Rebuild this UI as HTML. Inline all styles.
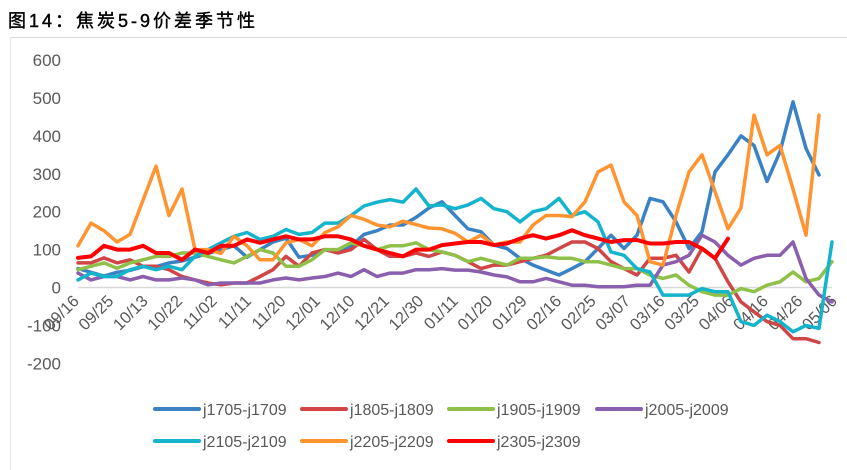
<!DOCTYPE html>
<html><head><meta charset="utf-8"><style>
body{margin:0;background:#fff;}
#wrap{position:relative;width:847px;height:470px;overflow:hidden;background:#fff;font-family:"Liberation Sans","Noto Sans CJK SC",sans-serif;}
</style></head><body>
<div id="wrap">
<svg id="svg" width="847" height="470" xmlns="http://www.w3.org/2000/svg">
<text x="8" y="27" font-size="18" fill="#000" stroke="#000" stroke-width="0.4" letter-spacing="3" font-family="'Liberation Sans','Noto Sans CJK SC',sans-serif">图14：焦炭5-9价差季节性</text>
<line x1="10" y1="37.5" x2="847" y2="37.5" stroke="#d9d9d9" stroke-width="1"/>
<line x1="10.5" y1="37" x2="10.5" y2="470" stroke="#e6e6e6" stroke-width="1"/>
<g id="axes"></g><g id="series"></g><g id="legend"></g>
</svg>
</div>
<script>
const yTicks=[600,500,400,300,200,100,0,-100,-200];
const xLabels=["09/16","09/25","10/13","10/22","11/02","11/11","11/20","12/01","12/10","12/21","12/30","01/11","01/20","01/29","02/16","02/25","03/07","03/16","03/25","04/06","04/16","04/26","05/06"];
const seriesNames=["j1705-j1709","j1805-j1809","j1905-j1909","j2005-j2009","j2105-j2109","j2205-j2209","j2305-j2309"];
const seriesColors=["#3b82c4","#d04545","#8fc04a","#8a5fae","#14b4cc","#ff9430","#ff0000"];
const s1705=[50,40,30,40,45,55,55,65,70,80,90,100,110,80,100,120,130,80,85,100,95,110,140,150,165,165,185,210,226,190,155,147,112,103,77,59,46,33,50,68,103,138,103,138,235,226,173,103,147,305,350,400,375,280,358,490,367,297];
const s1805=[65,65,78,65,73,56,56,47,29,20,12,7,12,12,29,47,82,56,91,100,91,100,127,100,82,82,91,82,94,85,68,50,59,59,68,77,85,103,120,120,103,68,50,33,77,77,85,41,103,77,15,-38,-64,-90,-100,-135,-135,-145];
const s1905=[47,56,65,51,65,73,82,82,91,91,82,73,65,82,100,91,56,56,73,100,100,118,110,100,110,110,118,100,94,85,68,77,68,59,77,77,81,77,77,68,68,59,50,50,33,24,33,6,-11,-20,-20,-3,-11,6,15,41,15,24,68];
const s2005=[38,20,29,29,20,29,20,20,25,20,7,12,12,12,12,20,25,20,25,29,38,29,47,29,38,38,47,47,50,46,46,41,33,28,15,15,24,15,6,6,2,2,2,6,6,59,68,85,138,120,85,59,77,85,85,120,24,-20,-38];
const s2105=[20,38,29,29,47,56,47,56,47,82,100,118,135,145,127,135,153,140,145,170,170,190,215,225,232,225,260,215,218,208,218,235,208,200,173,200,208,235,190,200,173,94,85,50,41,-20,-20,-20,-3,-11,-11,-90,-100,-73,-90,-117,-100,-108,120];
const s2205=[110,170,150,120,140,230,320,190,260,100,100,90,135,110,73,73,118,127,110,145,160,190,180,165,160,175,166,157,155,143,120,138,112,120,120,165,190,190,187,226,305,323,226,190,68,59,190,305,350,253,155,210,455,350,375,260,138,455];
const s2305=[78,82,110,100,100,110,91,91,73,100,91,110,110,127,118,127,135,127,127,135,135,127,110,100,91,82,100,100,112,116,120,120,112,116,129,138,129,138,151,138,129,120,125,125,116,116,120,120,103,77,129];
const allSeries=[s1705,s1805,s1905,s2005,s2105,s2205,s2305];

const NS="http://www.w3.org/2000/svg";
const X0=78,STEP=13,YZ=287.5,PER=0.379;
function xs(i){return X0+STEP*i;}
function ys(v){return YZ-v*PER;}
function mk(tag,attrs,parent){const e=document.createElementNS(NS,tag);for(const k in attrs)e.setAttribute(k,attrs[k]);parent.appendChild(e);return e;}
const axes=document.getElementById('axes');
const zl=mk('line',{x1:X0,x2:832,y1:ys(0),y2:ys(0),stroke:'#d9d9d9','stroke-width':1.5},axes);


yTicks.forEach(t=>{
 const tx=mk('text',{x:61,y:ys(t)+6,'text-anchor':'end','font-size':17,fill:'#595959'},axes);
 tx.textContent=t;
 
 
});
const lStep=(838-80)/(xLabels.length-1);
xLabels.forEach((l,i)=>{
 const x=80+lStep*i,y=302;
 const tx=mk('text',{x:x,y:y,'text-anchor':'end','font-size':16.5,fill:'#595959',transform:`rotate(-45 ${x} ${y})`},axes);
 tx.textContent=l;
 
 
});
const sg=document.getElementById('series');
allSeries.forEach((arr,si)=>{
 const d=arr.map((v,i)=>(i?'L':'M')+xs(i).toFixed(1)+' '+ys(v).toFixed(1)).join(' ');
 const p=mk('path',{d:d,fill:'none',stroke:seriesColors[si],'stroke-width':si==6?4:3.5,'stroke-linejoin':'round','stroke-linecap':'round'},sg);
 
 
});
const lg=document.getElementById('legend');
const lpos=[[155,409],[302,409],[449,409],[597,409],[155,441],[302,441],[449,441]];
seriesNames.forEach((n,i)=>{
 const [x,y]=lpos[i];
 const g=mk('g',{},lg);
 
 
 mk('line',{x1:x,x2:x+44,y1:y,y2:y,stroke:seriesColors[i],'stroke-width':4,'stroke-linecap':'round'},g);
 const t=mk('text',{x:x+48,y:y+6,'font-size':16,fill:'#595959'},g);
 t.textContent=n;
});
</script>
</body></html>
